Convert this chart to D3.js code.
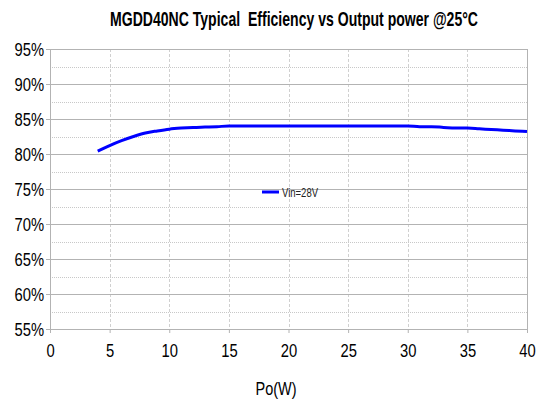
<!DOCTYPE html>
<html>
<head>
<meta charset="utf-8">
<script src="https://cdn.jsdelivr.net/npm/d3@7"></script>
<style>
  body { margin: 0; background: #fff; }
  text { font-family: "Liberation Sans", Arial, sans-serif; }
</style>
</head>
<body>
<div id="container"></div>
<script>
// Efficiency curve
const powerW = [4, 5, 6, 7, 8, 9, 10, 11, 12, 13, 14, 15, 16, 17, 18, 19, 20, 21, 22, 23, 24, 25, 26, 27, 28, 29, 30, 31, 32, 33, 34, 35, 36, 37, 38, 39, 40];
const effPct = [80.4, 81.2, 81.9, 82.5, 83.0, 83.3, 83.55, 83.7, 83.8, 83.85, 83.9, 84.0, 84.0, 84.0, 84.0, 84.0, 84.0, 84.0, 84.0, 84.0, 84.0, 84.0, 84.0, 84.0, 84.0, 84.0, 84.0, 83.9, 83.9, 83.8, 83.7, 83.7, 83.6, 83.5, 83.4, 83.3, 83.2];
const xTicks = [0, 5, 10, 15, 20, 25, 30, 35, 40];
const yTicks = [55, 60, 65, 70, 75, 80, 85, 90, 95];
const yMinor = [57.5, 62.5, 67.5, 72.5, 77.5, 82.5, 87.5, 92.5];
const seriesName = 'Vin=28V';

const W = 552, H = 406;
const margin = { top: 49, right: 25, bottom: 77, left: 50 };
const width = W - margin.left - margin.right;
const height = H - margin.top - margin.bottom;

const data = powerW.map((p, i) => ({ p, e: effPct[i] }));

const x = d3.scaleLinear().domain([0, 40]).range([0, width]);
const y = d3.scaleLinear().domain([55, 95]).range([height, 0]);

//--- narrow look: squeeze text horizontally (no narrow font installed)
function squeeze(sel, k) {
  sel.each(function () {
    const len = this.getComputedTextLength();
    d3.select(this)
      .attr('textLength', len * k)
      .attr('lengthAdjust', 'spacingAndGlyphs');
  });
}

const svg = d3.select('#container').append('svg')
  .attr('width', W).attr('height', H);

const g = svg.append('g')
  .attr('transform', `translate(${margin.left},${margin.top})`);

//--- minor horizontal grid (dotted)
g.selectAll('.minor').data(yMinor).enter().append('line')
  .attr('x1', 0).attr('x2', width)
  .attr('y1', d => Math.round(y(d)) + 0.5).attr('y2', d => Math.round(y(d)) + 0.5)
  .attr('stroke', '#c8c8c8').attr('stroke-dasharray', '1,1');

//--- vertical grid (dashed)
g.selectAll('.vgrid').data(xTicks.slice(1, -1)).enter().append('line')
  .attr('x1', d => Math.round(x(d)) + 0.5).attr('x2', d => Math.round(x(d)) + 0.5)
  .attr('y1', 0).attr('y2', height)
  .attr('stroke', '#d0d0d0').attr('stroke-dasharray', '3,2');

//--- major horizontal grid
g.selectAll('.major').data(yTicks).enter().append('line')
  .attr('x1', 0).attr('x2', width)
  .attr('y1', d => Math.round(y(d)) + 0.5).attr('y2', d => Math.round(y(d)) + 0.5)
  .attr('stroke', '#b3b3b3');

//--- right border
g.append('line')
  .attr('x1', width + 0.5).attr('x2', width + 0.5)
  .attr('y1', 0).attr('y2', height)
  .attr('stroke', '#b3b3b3');

//--- axes
const yAxis = d3.axisLeft(y).tickValues(yTicks).tickSize(4).tickPadding(2)
  .tickFormat(d => d + '%');
const xAxis = d3.axisBottom(x).tickValues(xTicks).tickSize(4).tickPadding(11);

const gy = g.append('g').call(yAxis);
const gx = g.append('g').attr('transform', `translate(0,${height})`).call(xAxis);

[gy, gx].forEach(a => {
  a.select('.domain').attr('stroke', '#b3b3b3');
  a.selectAll('.tick line').attr('stroke', '#b3b3b3');
  a.selectAll('.tick text')
    .attr('fill', '#000')
    .style('font-size', '18px')
    .style('font-family', '"Liberation Sans", Arial, sans-serif');
  squeeze(a.selectAll('.tick text'), 0.82);
});
gy.selectAll('.tick text').attr('dy', '0.36em');

//--- the curve
const line = d3.line().x(d => x(d.p)).y(d => y(d.e)).curve(d3.curveMonotoneX);
g.append('path').datum(data)
  .attr('d', line)
  .attr('fill', 'none')
  .attr('stroke', '#0000ff')
  .attr('stroke-width', 3);

//--- legend
const legend = svg.append('g').attr('transform', 'translate(262,192)');
legend.append('line')
  .attr('x1', 0).attr('x2', 17).attr('y1', 0).attr('y2', 0)
  .attr('stroke', '#0000ff').attr('stroke-width', 3);
legend.append('text')
  .attr('x', 20).attr('y', 5)
  .style('font-size', '13px')
  .attr('fill', '#222')
  .attr('textLength', 36)
  .attr('lengthAdjust', 'spacingAndGlyphs')
  .text(seriesName);

//--- title
svg.append('text')
  .attr('x', 294).attr('y', 26)
  .attr('text-anchor', 'middle')
  .style('font-size', '21px')
  .style('font-weight', 'bold')
  .style('white-space', 'pre')
  .attr('fill', '#000')
  .attr('textLength', 368)
  .attr('lengthAdjust', 'spacingAndGlyphs')
  .text('MGDD40NC Typical  Efficiency vs Output power @25°C');

//--- x-axis title
svg.append('text')
  .attr('x', 276).attr('y', 395)
  .attr('text-anchor', 'middle')
  .style('font-size', '19px')
  .attr('fill', '#000')
  .attr('textLength', 41)
  .attr('lengthAdjust', 'spacingAndGlyphs')
  .text('Po(W)');
</script>
</body>
</html>
